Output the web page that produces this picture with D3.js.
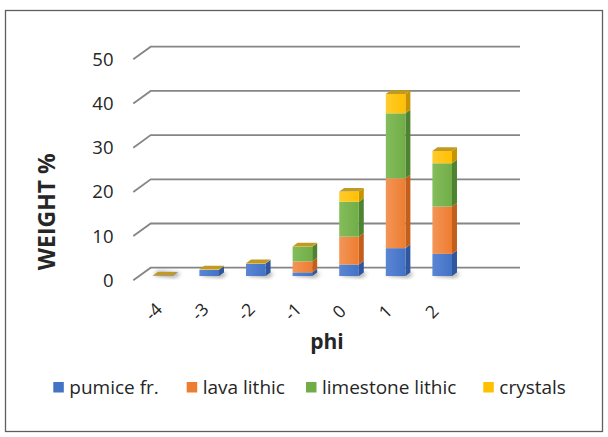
<!DOCTYPE html>
<html>
<head>
<meta charset="utf-8">
<script src="https://cdn.jsdelivr.net/npm/d3@7"></script>
<style>
  html, body { margin: 0; padding: 0; background: #fff; }
  svg { display: block; }
  text { font-family: "Open Sans", "Noto Sans", sans-serif; fill: #262626; }
</style>
</head>
<body>
<svg id="chart" width="608" height="437"></svg>
<script>
// Grain-size distribution by component (weight %)
const phi = ["-4", "-3", "-2", "-1", "0", "1", "2"];
const pumice    = [0.1, 1.4, 2.8, 0.8, 2.6, 6.3, 5.0];
const lava      = [0,   0,   0,   2.5, 6.3, 15.8, 10.7];
const limestone = [0,   0,   0,   3.3, 7.9, 14.7, 9.8];
const crystals  = [0,   0.1, 0.1, 0.1, 2.3, 4.4, 2.8];
const seriesNames = ["pumice fr.", "lava lithic", "limestone lithic", "crystals"];
const yTicks = [0, 10, 20, 30, 40, 50];

const palette = [
  { front: "#4472c4", light: "#5a86d4", side: "#2f569e" },
  { front: "#ed7d31", light: "#f39556", side: "#c45f1b" },
  { front: "#70ad47", light: "#84bd5c", side: "#4e8431" },
  { front: "#ffc000", light: "#ffcb2e", side: "#c79400" }
];
const topColor = "#c09a22";

const svg = d3.select("#chart");
const defs = svg.append("defs");
palette.forEach((p, i) => {
  const g = defs.append("linearGradient").attr("id", "fr" + i)
    .attr("x1", "0").attr("x2", "1").attr("y1", "0").attr("y2", "0");
  g.append("stop").attr("offset", "0").attr("stop-color", p.light);
  g.append("stop").attr("offset", "1").attr("stop-color", p.front);
});
defs.append("filter").attr("id", "soft").attr("x", "-50%").attr("y", "-50%")
  .attr("width", "200%").attr("height", "200%")
  .append("feGaussianBlur").attr("stdDeviation", 2);

// outer frame
svg.append("rect").attr("x", 5.5).attr("y", 10.5).attr("width", 597).attr("height", 421)
  .attr("fill", "none").attr("stroke", "#5f5f5f").attr("stroke-width", 1.3);

// back wall scale, bar front-plane scale, and floor depth vector
const yBack = d3.scaleLinear().domain([0, 50]).range([267.7, 46.7]);
const yBar = d3.scaleLinear().domain([0, 50]).range([276, 55]);
const DX = -17.4, DY = 12.6;   // wall back -> front edge
const bx = 5, by = -3.6;       // bar depth
const wallLeft = 150.7, wallRight = 520;

const x = d3.scaleBand().domain(phi).range([139.3, 465.5])
  .paddingInner(0.58).paddingOuter(0.29);
const xLab = d3.scalePoint().domain(phi).range([153.5, 431.9]);

// gridlines on side wall + back wall
const grid = svg.append("g");
yTicks.forEach(t => {
  const yb = yBack(t);
  grid.append("path")
    .attr("d", `M${wallLeft + DX},${yb + DY}L${wallLeft},${yb}L${wallRight},${yb}`)
    .attr("fill", "none").attr("stroke", "#858585").attr("stroke-width", 1.8);
});

// y tick labels
svg.append("g").selectAll("text").data(yTicks).join("text")
  .attr("x", 113.5).attr("y", d => yBack(d) + DY)
  .attr("dy", "0.35em").attr("text-anchor", "end")
  .style("font-size", "18.5px").text(d => d);

// stacked data
const rows = phi.map((p, i) => ({
  phi: p, s0: pumice[i], s1: lava[i], s2: limestone[i], s3: crystals[i]
}));
const stack = d3.stack().keys(["s0", "s1", "s2", "s3"])(rows);

// soft shadows on the floor
const shadows = svg.append("g").attr("filter", "url(#soft)");
rows.forEach(r => {
  const x1 = x(r.phi), x2 = x1 + x.bandwidth(), y0 = yBar(0);
  shadows.append("polygon")
    .attr("points", [[x1 + 1, y0 - 1], [x2 + 3, y0 + 1], [x2 + bx + 3, y0 + by + 1], [x1 + bx + 1, y0 + by - 1]].join(" "))
    .attr("fill", "#1a1a00").attr("opacity", 0.5);
});

// bars
const bars = svg.append("g");
rows.forEach((r, i) => {
  const x1 = x(r.phi), x2 = x1 + x.bandwidth();
  stack.forEach((layer, k) => {
    const [c0, c1] = layer[i];
    const yt = yBar(c1), yb = yBar(c0);
    const p = palette[k];
    // side face
    bars.append("polygon")
      .attr("points", [[x2, yt], [x2 + bx, yt + by], [x2 + bx, yb + by], [x2, yb]].join(" "))
      .attr("fill", p.side);
    // front face
    bars.append("rect")
      .attr("x", x1).attr("y", yt).attr("width", x2 - x1).attr("height", Math.max(0, yb - yt))
      .attr("fill", `url(#fr${k})`);
  });
  // top face of the stack
  const top = yBar(stack[stack.length - 1][i][1]);
  bars.append("polygon")
    .attr("points", [[x1, top], [x1 + bx, top + by], [x2 + bx, top + by], [x2, top]].join(" "))
    .attr("fill", topColor);
});

// x tick labels, rotated
svg.append("g").selectAll("text").data(phi).join("text")
  .attr("transform", d => `translate(${xLab(d)},311.7) rotate(-45)`)
  .attr("text-anchor", "middle").attr("dy", "0.35em")
  .style("font-size", "17.5px").text(d => d);

// axis titles
svg.append("text").attr("x", 327).attr("y", 349)
  .attr("text-anchor", "middle").style("font-size", "21px").style("font-weight", "bold")
  .text("phi");
svg.append("text").attr("transform", "translate(46.7,211.7) rotate(-90)")
  .attr("text-anchor", "middle").attr("dy", "0.35em")
  .style("font-size", "23px").style("font-weight", "bold")
  .text("WEIGHT %");

// legend
const legendX = [53.3, 186.7, 306, 483.3];
const leg = svg.append("g");
seriesNames.forEach((name, k) => {
  leg.append("rect").attr("x", legendX[k]).attr("y", 382).attr("width", 10.5).attr("height", 10.5)
    .attr("fill", palette[k].front);
  leg.append("text").attr("x", legendX[k] + 16).attr("y", 387.3).attr("dy", "0.35em")
    .style("font-size", "19px").text(name);
});
</script>
</body>
</html>
